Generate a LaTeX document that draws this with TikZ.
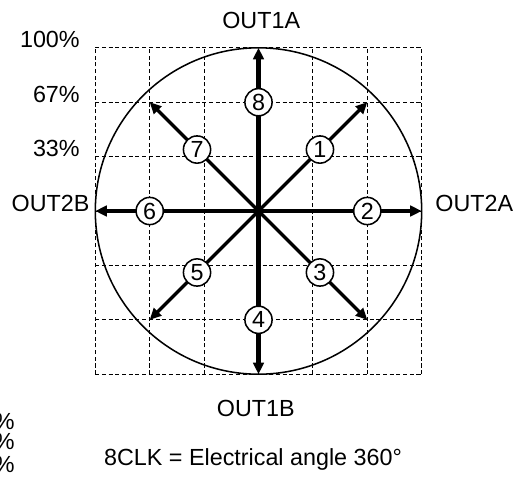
\documentclass[tikz,border=0pt]{standalone}
\usepackage{fontspec}
\setmainfont{Liberation Sans}
\usetikzlibrary{arrows.meta}

\begin{document}
\begin{tikzpicture}[
  gridline/.style={dash pattern=on 2.1pt off 1.4pt, line width=0.5pt},
  vec/.style={line width=1.7pt, -{Triangle[length=6pt, width=5.5pt]}},
  num/.style={circle, draw, fill=white, line width=0.8pt, minimum size=0.5cm, inner sep=0pt, font=\fontsize{12.2}{14}\selectfont},
  lbl/.style={inner sep=0pt, font=\fontsize{12.2}{14}\selectfont}
]
\useasboundingbox (-4.752,-4.890) rectangle (4.991,3.879);
\coordinate (o) at (0,0);
\draw[gridline] (-3,-3) grid (3,3);
\draw[line width=0.8pt] (o) circle (3);

% vector tips
\foreach \n/\x/\y in {1/2/2, 2/3/0, 3/2/-2, 4/0/-3, 5/-2/-2, 6/-3/0, 7/-2/2, 8/0/3}
  \coordinate (t\n) at (\x,\y);
\foreach \n in {1,2,3,5,6,7} \draw[vec] (o) -- (t\n);
\foreach \n in {4,8} \draw[vec, line width=2.2pt] (o) -- (t\n);

% step numbers
\foreach \n/\x/\y in {1/1.13/1.13, 2/2/0, 3/1.13/-1.13, 4/0/-2, 5/-1.13/-1.13, 6/-2/0, 7/-1.13/1.13, 8/0/2}
  \node[num] (n\n) at (\x,\y) {\n};

\node[lbl, anchor=base east] (p100) at (-3.28,3) {100\%};
\node[lbl, anchor=base east] (p67) at (-3.28,2) {67\%};
\node[lbl, anchor=base east] (p33) at (-3.28,1) {33\%};
\node[lbl, anchor=base east] (out2b) at (-3.10,0) {OUT2B};
\node[lbl, anchor=base west] (out2a) at (3.245,0) {OUT2A};
\node[lbl, anchor=base] (out1a) at (0.05,3.36) {OUT1A};
\node[lbl, anchor=base] (out1b) at (-0.05,-3.78) {OUT1B};
\node[lbl, anchor=base] (clk) at (-0.1,-4.67) {8CLK = Electrical angle 360°};

\foreach \y [count=\k] in {-4.01,-4.38,-4.80}
  \node[lbl, anchor=base east] (pc\k) at (-4.476,\y) {\%};
\end{tikzpicture}
\end{document}
